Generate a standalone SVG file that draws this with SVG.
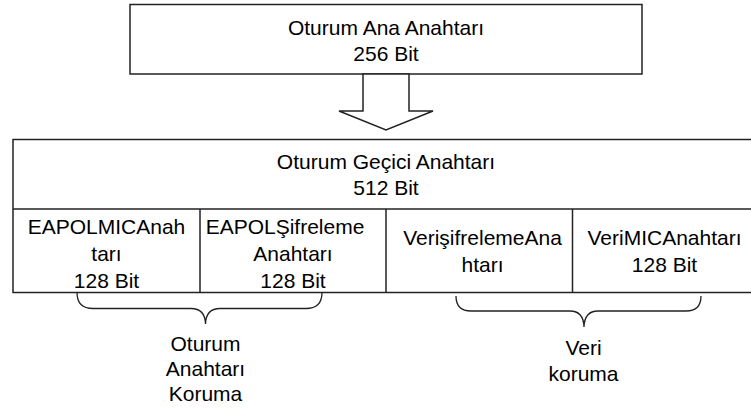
<svg xmlns="http://www.w3.org/2000/svg" width="751" height="408" viewBox="0 0 751 408">
  <style>
    .box { fill: #ffffff; stroke: #222222; stroke-width: 1.5; }
    .line { fill: none; stroke: #222222; stroke-width: 1.5; }
    .brace { fill: none; stroke: #222222; stroke-width: 1.3; }
    text { font-family: "Liberation Sans", Arial, sans-serif; font-size: 21px; fill: #000000; text-anchor: middle; }
  </style>
  <rect width="751" height="408" fill="#ffffff"/>

  <!-- Session master key -->
  <g id="master-key">
    <rect class="box" x="130" y="4.5" width="512" height="69.5"/>
    <text x="386" y="35">Oturum Ana Anahtarı</text>
    <text x="386" y="61">256 Bit</text>
  </g>

  <!-- Derivation arrow and grouping braces -->
  <g id="connectors">
    <polygon class="box" points="363,74 409,74 409,111 433,111 386,130 339,111 363,111"/>
    <!-- brace over the two EAPOL keys -->
    <path class="brace" d="M77,292.5 Q77,308.5 93,308.5 L191,308.5 Q205,308.5 205.5,324 Q206,308.5 220,308.5 L306,308.5 Q322,308.5 322,292.5"/>
    <!-- brace over the two data keys -->
    <path class="brace" d="M456,296 Q456,311 471,311 L570,311 Q583.5,311 584,327 Q584.5,311 598,311 L686,311 Q701,311 701,296"/>
  </g>

  <!-- Session transient key -->
  <g id="transient-key">
    <rect class="box" x="13" y="139.5" width="746" height="153"/>
    <line class="line" x1="13" y1="209" x2="759" y2="209"/>
    <text x="386" y="169">Oturum Geçici Anahtarı</text>
    <text x="386" y="195">512 Bit</text>
  </g>

  <g id="eapol-mic-key">
    <line class="line" x1="200" y1="209" x2="200" y2="292.5"/>
    <text x="106.5" y="234">EAPOLMICAnah</text>
    <text x="106.5" y="261">tarı</text>
    <text x="106.5" y="288">128 Bit</text>
  </g>

  <g id="eapol-encryption-key">
    <text x="285" y="234">EAPOLŞifreleme</text>
    <text x="293" y="261">Anahtarı</text>
    <text x="293" y="288">128 Bit</text>
  </g>

  <g id="data-encryption-key">
    <line class="line" x1="386" y1="209" x2="386" y2="292.5"/>
    <text x="482.5" y="245">VerişifrelemeAna</text>
    <text x="482.5" y="272">htarı</text>
  </g>

  <g id="data-mic-key">
    <line class="line" x1="572.5" y1="209" x2="572.5" y2="292.5"/>
    <text x="664.5" y="245">VeriMICAnahtarı</text>
    <text x="664.5" y="272">128 Bit</text>
  </g>

  <!-- Brace labels -->
  <g id="session-key-protection">
    <text x="205.5" y="351">Oturum</text>
    <text x="205.5" y="376">Anahtarı</text>
    <text x="205.5" y="401">Koruma</text>
  </g>

  <g id="data-protection">
    <text x="583.5" y="355">Veri</text>
    <text x="583.5" y="381">koruma</text>
  </g>
</svg>
